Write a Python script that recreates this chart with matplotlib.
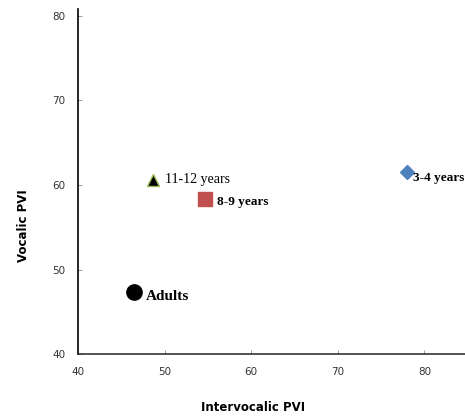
import matplotlib.pyplot as plt

# PVI values per age group
groups = ['Adults', '11-12 years', '8-9 years', '3-4 years']
intervocalic = [46.4, 48.7, 54.7, 78.0]
vocalic = [47.3, 60.6, 58.3, 61.5]
markers = ['o', '^', 's', 'D']
colors = ['black', 'black', '#C0504D', '#4F81BD']
edges = ['black', '#9BBB59', '#C0504D', '#4F81BD']
sizes = [11, 9, 10, 7.5]
label_offsets = [(12, -4), (12, 0), (12, -3), (6, -6)]
label_weights = ['bold', 'normal', 'bold', 'bold']
label_sizes = [11, 10, 9.5, 9.5]

x_ticks = [40, 50, 60, 70, 80]
y_ticks = [40, 50, 60, 70, 80]

fig = plt.figure(figsize=(4.65, 4.18), dpi=100)
ax = fig.add_axes([0.168, 0.153, 0.832, 0.825])

for i, g in enumerate(groups):
    ax.plot(intervocalic[i], vocalic[i], marker=markers[i], ls='none',
            ms=sizes[i], color=colors[i], mec=edges[i], mew=1)
    ax.annotate(g, (intervocalic[i], vocalic[i]), xytext=label_offsets[i],
                textcoords='offset pixels', va='center', ha='left',
                fontsize=label_sizes[i], fontweight=label_weights[i],
                family='Liberation Serif')

ax.set_xlim(40, 84.7)
ax.set_ylim(40, 80.8)
ax.set_xticks(x_ticks)
ax.set_yticks(y_ticks)
ax.tick_params(direction='in', length=3, width=0.6, color='#888888',
               labelsize=7.5, labelcolor='#333333', pad=9)
for side in ['top', 'right']:
    ax.spines[side].set_visible(False)
ax.spines['left'].set_linewidth(1.2)
ax.spines['bottom'].set_linewidth(1.2)
ax.spines['bottom'].set_color('#333333')

fig.text(0.545, 0.025, 'Intervocalic PVI', ha='center', va='center',
         fontsize=8.5, fontweight='bold')
fig.text(0.05, 0.46, 'Vocalic PVI', ha='center', va='center',
         rotation=90, fontsize=8.5, fontweight='bold')

fig.savefig('out.png', dpi=100)
